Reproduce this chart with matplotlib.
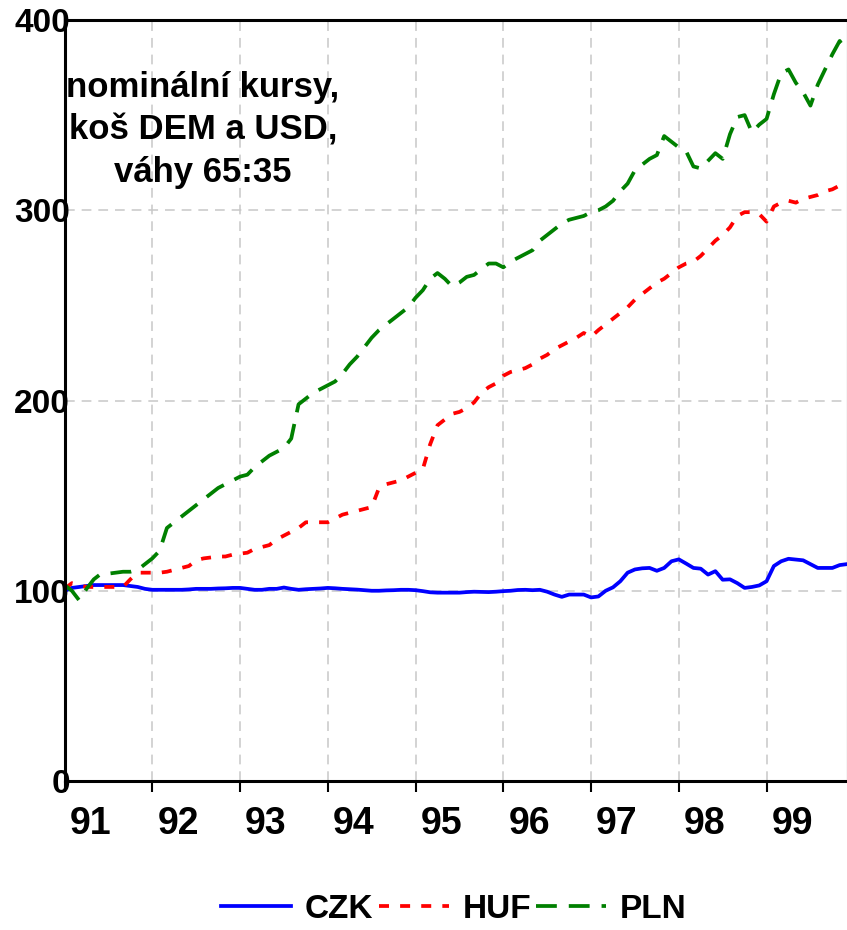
import numpy as np
import matplotlib
matplotlib.use("Agg")
import matplotlib.pyplot as plt
import matplotlib.transforms as mtransforms

# --- Data (monthly index, Jan 1991 = start) ---
START_YEAR = 91
czk = [100, 101.5, 102, 102.5, 103, 103, 103, 103, 103, 102.5, 102, 101,
       100.5, 100.5, 100.5, 100.5, 100.5, 100.7, 101, 101, 101, 101.2, 101.3, 101.5,
       101.5, 101, 100.5, 100.5, 101, 101, 101.7, 101, 100.5, 100.8, 101, 101.2,
       101.5, 101.3, 101, 100.8, 100.6, 100.3, 100, 100, 100.2, 100.3, 100.5, 100.5,
       100.3, 99.8, 99.2, 99, 99, 99, 99, 99.3, 99.5, 99.4, 99.3, 99.5,
       99.8, 100, 100.4, 100.5, 100.3, 100.5, 99.5, 98, 96.8, 98, 98, 98,
       96.5, 97, 100, 101.8, 105, 109.5, 111.2, 111.8, 112, 110.5, 112, 115.5,
       116.5, 114.3, 112, 111.6, 108.5, 110.3, 105.8, 106, 104, 101.5, 102, 102.8,
       105, 113, 115.5, 116.8, 116.4, 116, 114, 112, 112, 112, 113.5, 114]
huf = [101, 104, 103, 102, 102, 102, 102, 102, 102, 106, 109.5, 109.5,
       109.5, 109.5, 110, 111, 112, 113, 116, 117, 117.5, 118, 118, 119,
       119.5, 120, 122, 123, 124, 127, 129, 131, 133, 136, 136, 136,
       136, 138, 140, 141, 142, 143, 144, 154, 156, 157, 158, 160,
       162, 164, 177, 187, 190, 193, 194, 196, 199, 204, 207, 209,
       213, 215, 216, 217, 219, 222, 224, 227, 229, 231, 233, 235.5,
       233.5, 237, 240, 243, 246, 249, 253, 256, 259, 262, 264, 267,
       270, 272, 273, 276, 280, 284, 287, 291, 297, 299, 299, 298,
       294, 302, 304, 305, 304, 306, 307, 308, 310, 311, 313, 314]
pln = [103, 100, 95, 101, 106, 109, 109, 109.5, 110, 110, 111, 114,
       117, 121, 133, 136, 139, 142, 145, 148, 151, 154, 156, 158,
       160, 161, 165, 168, 171, 173, 175, 180, 198, 201, 204, 206,
       208, 210, 214, 219, 223, 228, 233, 237, 240, 243, 246, 249,
       254, 258, 264, 267, 264, 260, 262, 265, 266, 269, 272, 272,
       270, 273, 275, 277, 279, 284, 287, 290, 293, 295, 296, 297,
       299, 300, 302, 305, 310, 314, 321, 324, 327, 329, 339, 336,
       333, 331, 323, 322, 326, 330, 327, 340, 349, 350, 341, 345,
       348, 361, 372, 374, 367, 362, 355, 366, 374, 382, 389, 383]
year_ticks = [91, 92, 93, 94, 95, 96, 97, 98, 99]
y_ticks = [0, 100, 200, 300, 400]
note = "nominální kursy,\nkoš DEM a USD,\nváhy 65:35"

plt.rcParams['font.family'] = ['Liberation Sans', 'DejaVu Sans']
plt.rcParams['font.weight'] = 'bold'
plt.rcParams['lines.scale_dashes'] = False

x = START_YEAR + np.arange(len(czk)) / 12.0

fig = plt.figure(figsize=(8.47, 9.3), dpi=100)
ax = fig.add_axes([0.0762, 0.1602, 0.9238, 0.8183])

ax.plot(x, czk, color='#0000ff', lw=2.7, solid_joinstyle='round', label='CZK')
ax.plot(x, huf, color='#ff0000', lw=2.7, dashes=(7.2, 8.0), label='HUF')
ax.plot(x, pln, color='#008000', lw=2.7, dashes=(15, 8.6), label='PLN')

ax.set_xlim(x[0], x[-1])
ax.set_ylim(0, 400)
ax.set_xticks(year_ticks)
ax.set_xticklabels([str(y) for y in year_ticks])
ax.set_yticks(y_ticks)

ax.grid(True, color='#c8c8c8', lw=1.1, dashes=(7, 5))
ax.set_axisbelow(True)

for side in ['left', 'top', 'bottom']:
    ax.spines[side].set_linewidth(2.2)
    ax.spines[side].set_color('black')
ax.spines['right'].set_linewidth(0.8)
ax.spines['right'].set_color('#555555')

ax.tick_params(axis='y', length=0, pad=-4, labelsize=24)
ax.tick_params(axis='x', length=8, width=1.5, direction='out', pad=10, labelsize=27)
offset = mtransforms.ScaledTranslation(5 / 100, 0, fig.dpi_scale_trans)
for lbl in ax.get_xticklabels():
    lbl.set_horizontalalignment('left')
    lbl.set_transform(lbl.get_transform() + offset)

fig.text(203 / 847, 1 - 130 / 930, note, ha='center', va='center',
         multialignment='center', fontsize=25, fontweight='bold', linespacing=1.36)

fig.legend(loc='center', bbox_to_anchor=(454 / 847, 1 - 909 / 930), ncol=3,
           frameon=False, handlelength=2.1, handletextpad=0.42,
           columnspacing=0.15, borderpad=0, prop={'weight': 'bold', 'size': 24})

fig.savefig('out.png', dpi=100)
